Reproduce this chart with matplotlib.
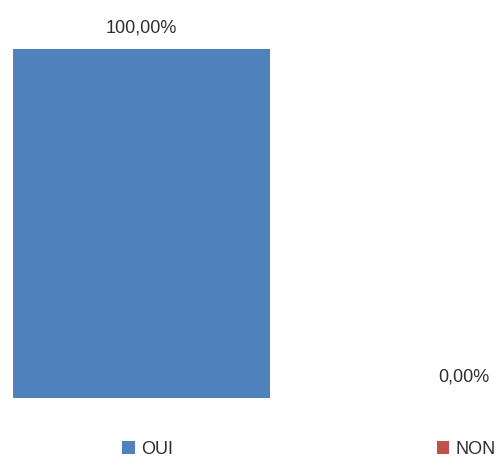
import matplotlib as mpl
mpl.use("Agg")
import matplotlib.pyplot as plt
from matplotlib.patches import Patch

categories = ["OUI", "NON"]
values = [100.0, 0.0]
labels = ["100,00%", "0,00%"]
colors = ["#4F81BD", "#C0504D"]

plt.rcParams["font.family"] = ["Liberation Sans", "DejaVu Sans"]

fig = plt.figure(figsize=(5.03, 4.59), dpi=100)
# axes placed so the bars land where the original ones are
ax = fig.add_axes([0, 61 / 459, 1, 349.5 / 459])
ax.bar(range(len(categories)), values, width=0.8, color=colors)
ax.set_xlim(-0.44, 1.122)
ax.set_ylim(0, 100)
ax.axis("off")

for i, (v, lab) in enumerate(zip(values, labels)):
    ax.annotate(lab, (i, v), xytext=(0, 15), textcoords="offset points",
                ha="center", va="center", fontsize=13, color="#2e2e2e",
                annotation_clip=False)

handles = [Patch(facecolor=c, edgecolor="none") for c in colors]
fig.legend(handles, categories, loc="center", bbox_to_anchor=(309 / 503, 1 - 449.5 / 459),
           ncol=2, frameon=False, fontsize=13, handlelength=0.7, handleheight=0.7,
           handletextpad=0.35, columnspacing=14.6, labelcolor="#2e2e2e")

fig.savefig("out.png", dpi=100)
